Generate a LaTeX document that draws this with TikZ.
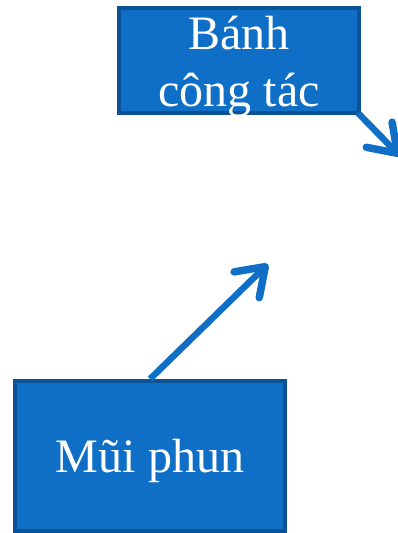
\documentclass[tikz,border=0pt]{standalone}
\usepackage{fontspec}
\setmainfont{Liberation Serif}
\usetikzlibrary{arrows.meta}
\definecolor{boxfill}{HTML}{0F6FC6}
\definecolor{boxline}{HTML}{0B5394}
\definecolor{arrowblue}{HTML}{0F6FC6}
\tikzset{
  partbox/.style={draw=boxline, fill=boxfill, line width=4pt, inner sep=0pt},
  partlabel/.style={text=white, align=center, inner sep=0pt,
    font=\fontsize{48}{57}\selectfont},
  flow/.style={draw=arrowblue, line width=6.5pt,
    -{Straight Barb[length=26pt, width=36pt, line width=7.5pt, round]}}
}
\begin{document}
\begin{tikzpicture}[x=1pt, y=-1pt]
  \useasboundingbox (0,0) rectangle (398,533);
  % impeller box and its caption
  \node[partbox, minimum width=240pt, minimum height=105pt] (banh) at (239,60.5) {};
  \node[partlabel, yshift=-6pt] (banhtext) at (banh.center) {Bánh\\công tác};
  % nozzle box and its caption
  \node[partbox, minimum width=270pt, minimum height=150pt] (mui) at (150,456) {};
  \node[partlabel, yshift=-5pt] (muitext) at (mui.center) {Mũi phun};
  % free ends of the flow arrows
  \coordinate (jetend) at (268,264);
  \coordinate (outend) at (400,156);
  \draw[flow] (mui.north) -- (jetend);
  \draw[flow] ([xshift=-3pt,yshift=2pt]banh.south east) -- (outend);
\end{tikzpicture}
\end{document}
